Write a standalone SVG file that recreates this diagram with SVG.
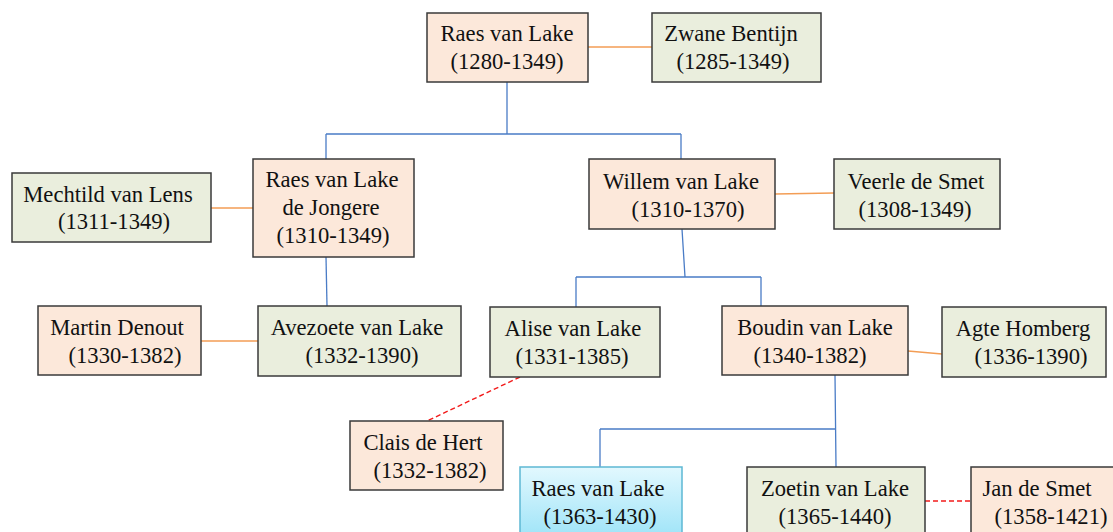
<svg xmlns="http://www.w3.org/2000/svg" width="1113" height="532" viewBox="0 0 1113 532">
<defs>
<linearGradient id="gBlue" x1="0" y1="0" x2="0" y2="1">
<stop offset="0" stop-color="#E2F8FE"/>
<stop offset="1" stop-color="#9FE4F8"/>
</linearGradient>
<style>
.m{fill:#FCE8DA;stroke:#3A3A3A;stroke-width:1.5}
.f{fill:#EAEEDD;stroke:#3A3A3A;stroke-width:1.5}
.b{fill:url(#gBlue);stroke:#5DB8D4;stroke-width:1.5}
text{font-family:'Liberation Serif','Times New Roman','DejaVu Serif',serif;font-size:22.6px;fill:#111;text-anchor:middle}
.bl{stroke:#4A7CC6;stroke-width:1.3;fill:none}
.or{stroke:#F39D55;stroke-width:1.5;fill:none}
.rd{stroke:#F21B1B;stroke-width:1.4;stroke-dasharray:5 3;fill:none}
</style>
</defs>
<g id="connectors">
<path class="or" d="M588 47H652"/>
<path class="bl" d="M507 82V134M326 134H681M326 134V159M681 134V159"/>
<path class="or" d="M211 208H253"/>
<path class="bl" d="M326 257L327 306"/>
<path class="or" d="M201 341H258"/>
<path class="or" d="M775 194L834 193"/>
<path class="bl" d="M682 229L685 277M576 277H761M576 277V307M761 277V306"/>
<path class="or" d="M908 351L942 354"/>
<path class="rd" d="M520 377L427 421"/>
<path class="bl" d="M835 375L836 467M600 429H835M600 429V467"/>
<path class="rd" d="M925 501H971"/>
</g>
<g id="raes1280"><rect class="m" x="427" y="13" width="161" height="69"/><text x="507" y="41">Raes van Lake</text><text x="507" y="69">(1280-1349)</text></g>
<g id="zwane"><rect class="f" x="652" y="13" width="169" height="69"/><text x="731" y="41">Zwane Bentijn</text><text x="733" y="69">(1285-1349)</text></g>
<g id="mechtild"><rect class="f" x="12" y="173" width="199" height="69"/><text x="108" y="202">Mechtild van Lens</text><text x="114" y="229">(1311-1349)</text></g>
<g id="raesjongere"><rect class="m" x="253" y="159" width="161" height="98"/><text x="332" y="187">Raes van Lake</text><text x="331" y="215">de Jongere</text><text x="333" y="243">(1310-1349)</text></g>
<g id="willem"><rect class="m" x="589" y="159" width="186" height="70"/><text x="681" y="189">Willem van Lake</text><text x="688" y="217">(1310-1370)</text></g>
<g id="veerle"><rect class="f" x="834" y="159" width="166" height="70"/><text x="916" y="189">Veerle de Smet</text><text x="915" y="217">(1308-1349)</text></g>
<g id="martin"><rect class="m" x="38" y="306" width="163" height="69"/><text x="117" y="335">Martin Denout</text><text x="125" y="363">(1330-1382)</text></g>
<g id="avezoete"><rect class="f" x="258" y="306" width="203" height="70"/><text x="357" y="335">Avezoete van Lake</text><text x="362" y="363">(1332-1390)</text></g>
<g id="alise"><rect class="f" x="490" y="307" width="170" height="70"/><text x="573" y="336">Alise van Lake</text><text x="572" y="364">(1331-1385)</text></g>
<g id="boudin"><rect class="m" x="722" y="306" width="186" height="69"/><text x="815" y="335">Boudin van Lake</text><text x="810" y="363">(1340-1382)</text></g>
<g id="agte"><rect class="f" x="942" y="307" width="164" height="70"/><text x="1023" y="336">Agte Homberg</text><text x="1031" y="364">(1336-1390)</text></g>
<g id="clais"><rect class="m" x="350" y="421" width="153" height="69"/><text x="423" y="450">Clais de Hert</text><text x="430" y="478">(1332-1382)</text></g>
<g id="raes1363"><rect class="b" x="520" y="467" width="162" height="70"/><text x="598" y="496">Raes van Lake</text><text x="600" y="524">(1363-1430)</text></g>
<g id="zoetin"><rect class="f" x="747" y="467" width="178" height="70"/><text x="835" y="496">Zoetin van Lake</text><text x="835" y="524">(1365-1440)</text></g>
<g id="jan"><rect class="m" x="971" y="467" width="150" height="70"/><text x="1037" y="496">Jan de Smet</text><text x="1051" y="524">(1358-1421)</text></g>
</svg>
